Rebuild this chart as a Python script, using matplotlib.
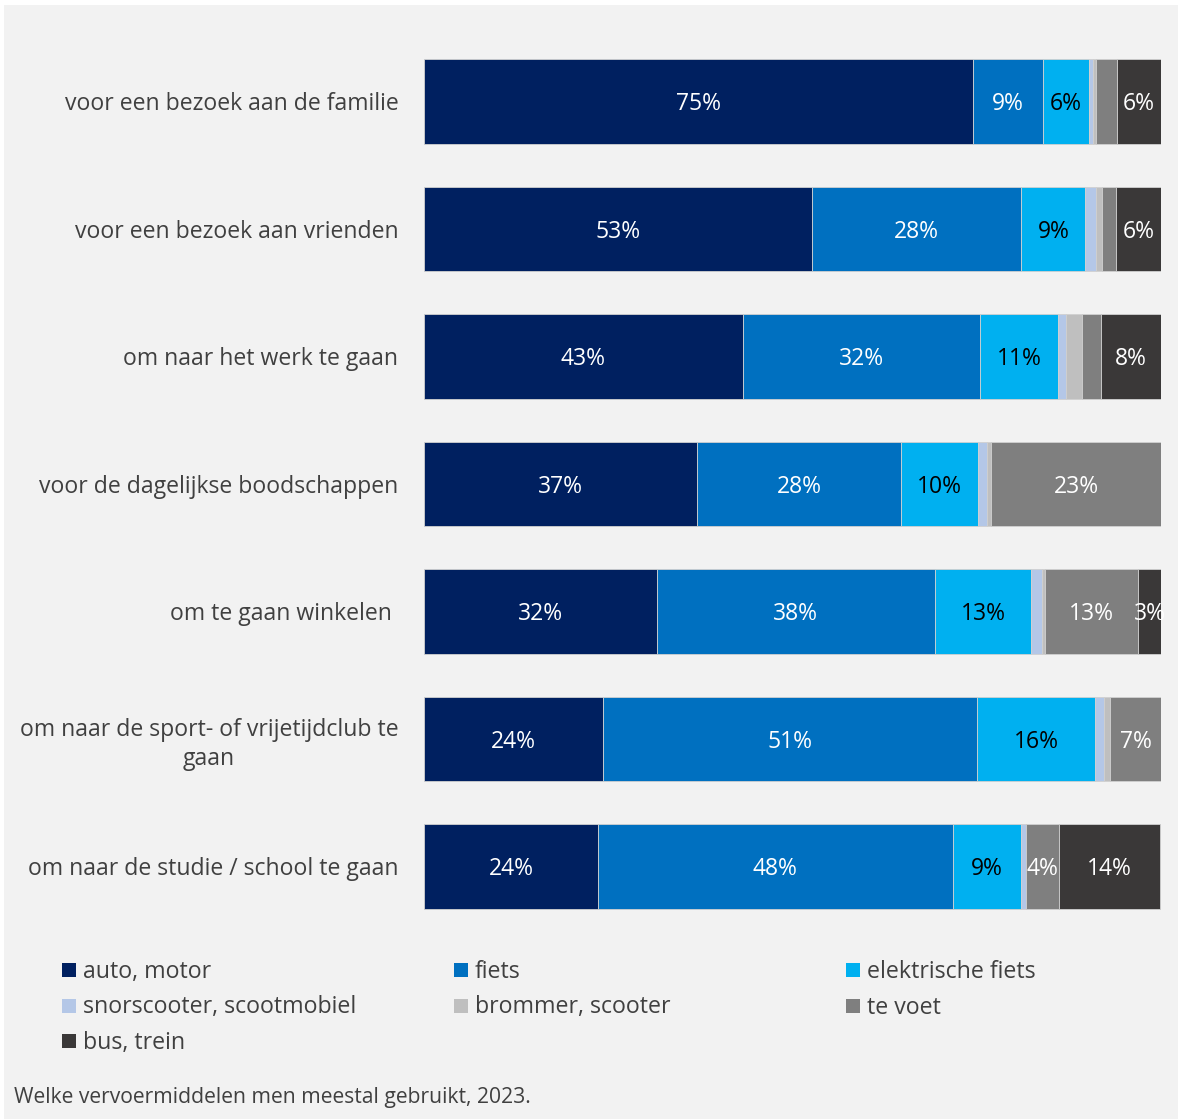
import matplotlib
matplotlib.use('Agg')
import matplotlib.pyplot as plt
from matplotlib.patches import Rectangle
import numpy as np

plt.rcParams['font.family'] = ['Open Sans', 'DejaVu Sans']

# categories, top to bottom
categories = [
    'voor een bezoek aan de familie',
    'voor een bezoek aan vrienden',
    'om naar het werk te gaan',
    'voor de dagelijkse boodschappen',
    'om te gaan winkelen ',
    'om naar de sport- of vrijetijdclub te\ngaan',
    'om naar de studie / school te gaan',
]

series = ['auto, motor', 'fiets', 'elektrische fiets', 'snorscooter, scootmobiel',
          'brommer, scooter', 'te voet', 'bus, trein']
colors = ['#002060', '#0070C0', '#00B0F0', '#B4C7E7', '#BFBFBF', '#7F7F7F', '#3A3838']
label_colors = ['white', 'white', 'black', 'black', 'black', 'white', 'white']

# percentages per series (one value per category)
auto = [74.6, 52.7, 43.3, 37.1, 31.6, 24.3, 23.6]
fiets = [9.4, 28.4, 32.2, 27.7, 37.8, 50.8, 48.2]
e_fiets = [6.3, 8.7, 10.6, 10.4, 13.0, 16.0, 9.3]
snor = [0.5, 1.4, 1.1, 1.2, 1.5, 1.2, 0.7]
brommer = [0.4, 0.8, 2.1, 0.6, 0.4, 0.9, 0.0]
te_voet = [2.9, 1.9, 2.6, 23.1, 12.7, 6.8, 4.4]
bus = [5.9, 6.2, 8.1, 0.0, 3.1, 0.0, 13.7]

values = [auto, fiets, e_fiets, snor, brommer, te_voet, bus]

fig = plt.figure(figsize=(11.8, 11.19), dpi=100, facecolor='white')
fig.patches.append(Rectangle((4 / 1180, 0), 1174 / 1180, 1 - 5 / 1119,
                             transform=fig.transFigure, facecolor='#F2F2F2',
                             edgecolor='none', zorder=-10))

ax = fig.add_axes([424 / 1180, 0.1687, 736.5 / 1180, 0.9663 - 0.1687])
ax.set_facecolor('none')

y = np.arange(len(categories))
left = np.zeros(len(categories))
for vals, col, lcol in zip(values, colors, label_colors):
    vals = np.array(vals)
    ax.barh(y, vals, left=left, height=0.66, color=col,
            edgecolor='#D0D0D0', linewidth=0.6)
    for yi, v, l in zip(y, vals, left):
        if v >= 3.0:
            ax.text(l + v / 2, yi + 0.02, f'{round(v)}%', ha='center', va='center',
                    color=lcol, fontsize=16.5, clip_on=False)
    left += vals

ax.set_xlim(0, 100)
ax.set_ylim(len(categories) - 0.5, -0.5)
ax.set_xticks([])
ax.set_yticks(y)
ax.set_yticklabels(categories, fontsize=16.6, color='#404040',
                   multialignment='center', linespacing=1.3)
ax.tick_params(axis='y', length=0, pad=18.5)
for s in ax.spines.values():
    s.set_visible(False)

# legend, laid out row-wise in three columns
for i, (name, col) in enumerate(zip(series, colors)):
    r, c = divmod(i, 3)
    x0 = 62 / 1180 + c * 392 / 1180
    yc = 1 - (970 + r * 35.5) / 1119
    fig.patches.append(Rectangle((x0, yc - 7 / 1119), 14 / 1180, 14 / 1119,
                                 transform=fig.transFigure, facecolor=col,
                                 edgecolor='none'))
    fig.text(x0 + 21 / 1180, yc - 2 / 1119, name, ha='left', va='center',
             fontsize=16.7, color='#404040')

fig.text(14 / 1180, 1 - 1098 / 1119, 'Welke vervoermiddelen men meestal gebruikt, 2023.',
         ha='left', va='center', fontsize=15.2, color='#404040')

fig.savefig('out.png', dpi=100, facecolor=fig.get_facecolor())
